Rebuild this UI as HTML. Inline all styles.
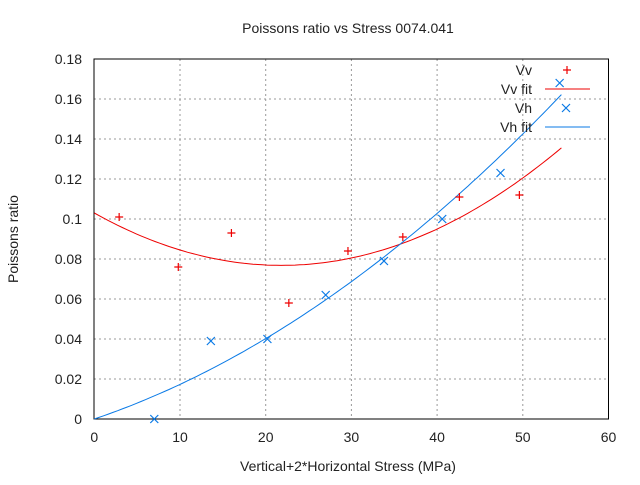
<!DOCTYPE html>
<html><head><meta charset="utf-8"><style>
body{margin:0;background:#fff;font-family:"Liberation Sans",sans-serif}
svg text{font-family:"Liberation Sans",sans-serif;font-size:14px;fill:#222}
</style></head><body>
<svg id="c" width="640" height="480"></svg>
<script>
const xTicks=[0,10,20,30,40,50,60];
const yTicks=[0,0.02,0.04,0.06,0.08,0.1,0.12,0.14,0.16,0.18];
const yTickLabels=["0","0.02","0.04","0.06","0.08","0.1","0.12","0.14","0.16","0.18"];
const vvX=[2.9,9.8,16,22.7,29.6,36,42.6,49.6];
const vvY=[0.101,0.076,0.093,0.058,0.084,0.091,0.111,0.112];
const vhX=[7,13.6,20.2,27,33.8,40.6,47.4,54.3];
const vhY=[0,0.039,0.04,0.062,0.079,0.1,0.123,0.168];
const vvFit=[0.103,-0.0024,0.000055];
const vhFit=[0,0.00145,0.000028];
const fitRange=[0,54.5];
const X=v=>94.3+v*(608.5-94.3)/60, Y=v=>419-v*(360/0.18);
const s=document.getElementById('c'),NS="http://www.w3.org/2000/svg";
function el(t,a,txt){const e=document.createElementNS(NS,t);for(const k in a)e.setAttribute(k,a[k]);if(txt!=null)e.textContent=txt;s.appendChild(e);return e;}
xTicks.forEach(v=>{
 if(v>0&&v<60){const g=el('line',{x1:X(v),x2:X(v),y1:59,y2:419,stroke:'#999','stroke-dasharray':'2,3'});
 }
 const t=el('text',{x:X(v),y:442,'text-anchor':'middle'},v);
 
});
yTicks.forEach((v,i)=>{
 if(v>0&&v<0.18){const g=el('line',{x1:94,x2:608,y1:Y(v),y2:Y(v),stroke:'#999','stroke-dasharray':'2,3'});
 }
 const t=el('text',{x:82,y:Y(v)+5,'text-anchor':'end'},yTickLabels[i]);
 
});
const fr=el('rect',{x:94,y:59,width:514.5,height:360,fill:'none',stroke:'#000'});

function fit(c,col,name){let d='';for(let i=0;i<=100;i++){const x=fitRange[0]+(fitRange[1]-fitRange[0])*i/100;const y=c[0]+c[1]*x+c[2]*x*x;d+=(i?'L':'M')+X(x).toFixed(1)+','+Y(y).toFixed(1);}
 const p=el('path',{d:d,fill:'none',stroke:col,'stroke-width':1});}
fit(vvFit,'#e00','vv-fit-line');fit(vhFit,'#0a7ae6','vh-fit-line');
function plus(x,y,name){const p=el('path',{d:`M${x-4},${y}h8M${x},${y-4}v8`,stroke:'#e00','stroke-width':1.2});}
function cross(x,y,name){const p=el('path',{d:`M${x-4},${y-4}l8,8M${x-4},${y+4}l8,-8`,stroke:'#0a7ae6','stroke-width':1.2});}
vvX.forEach((v,i)=>plus(X(v),Y(vvY[i]),'vv-point'));
vhX.forEach((v,i)=>cross(X(v),Y(vhY[i]),'vh-point'));
[['Vv',70],['Vv fit',89],['Vh',108],['Vh fit',127]].forEach(([t,y],i)=>{
 const e=el('text',{x:532,y:y+5,'text-anchor':'end'},t);
});
plus(567,70,'legend-vv-marker');cross(566,108,'legend-vh-marker');
let l=el('line',{x1:545,x2:590,y1:89,y2:89,stroke:'#e00'});
l=el('line',{x1:545,x2:590,y1:127,y2:127,stroke:'#0a7ae6'});
let t=el('text',{x:348,y:33,'text-anchor':'middle'},'Poissons ratio vs Stress 0074.041');
t=el('text',{x:348,y:471,'text-anchor':'middle'},'Vertical+2*Horizontal Stress (MPa)');
t=el('text',{x:18,y:239,'text-anchor':'middle',transform:'rotate(-90 18 239)'},'Poissons ratio');
</script></body></html>
